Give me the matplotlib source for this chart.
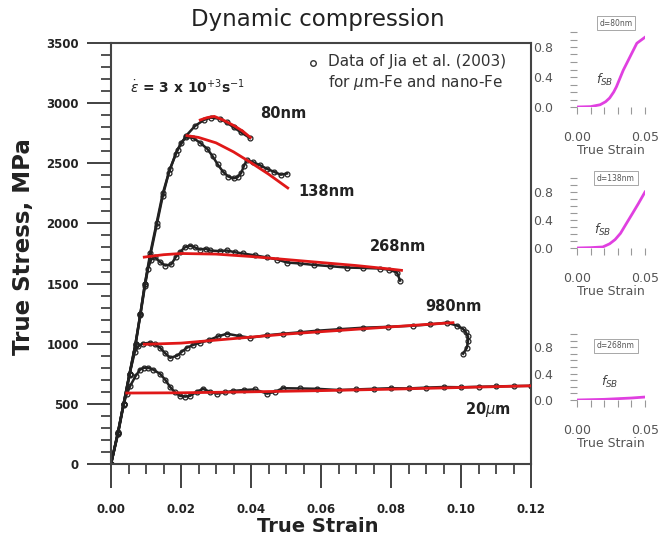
import numpy as np
import matplotlib.pyplot as plt
from matplotlib.ticker import MultipleLocator

# experimental data (Jia et al. 2003), strain / stress [MPa]
exp_80_x = [0.0, 0.002, 0.0036, 0.0053, 0.007, 0.0084, 0.0097, 0.0112, 0.013, 0.0148, 0.0168,
            0.019, 0.0215, 0.024, 0.0265, 0.0285, 0.031, 0.033, 0.035, 0.037, 0.0397]
exp_80_y = [0, 260, 500, 750, 1000, 1250, 1500, 1750, 2000, 2250, 2450,
            2610, 2730, 2810, 2860, 2880, 2870, 2840, 2800, 2760, 2710]

exp_138_x = [0.0, 0.002, 0.0036, 0.0053, 0.007, 0.0084, 0.0097, 0.0112, 0.013, 0.0148, 0.0165,
             0.0185, 0.02, 0.0215, 0.0235, 0.0255, 0.0275, 0.029, 0.0305, 0.032, 0.0335, 0.035,
             0.0362, 0.0372, 0.038, 0.0388, 0.0405, 0.0425, 0.0445, 0.0465, 0.0485, 0.0503]
exp_138_y = [0, 250, 490, 740, 990, 1240, 1480, 1730, 1980, 2230, 2420,
             2580, 2670, 2720, 2710, 2670, 2620, 2560, 2490, 2430, 2390, 2375,
             2385, 2420, 2480, 2525, 2510, 2485, 2455, 2430, 2405, 2415]

exp_268_x = [0.0, 0.002, 0.0036, 0.0053, 0.007, 0.0084, 0.0097, 0.0105, 0.0115, 0.0125, 0.014,
             0.0155, 0.0172, 0.0185, 0.0197, 0.021, 0.0226, 0.024, 0.0254, 0.027, 0.0283, 0.031,
             0.0331, 0.0355, 0.0377, 0.041, 0.0446, 0.0475, 0.0503, 0.054, 0.058, 0.0625, 0.0674,
             0.072, 0.0769, 0.0795, 0.0817, 0.0826]
exp_268_y = [0, 260, 500, 750, 1000, 1250, 1500, 1620, 1700, 1720, 1680,
             1650, 1660, 1720, 1760, 1800, 1815, 1800, 1783, 1790, 1775, 1770,
             1775, 1760, 1750, 1735, 1717, 1700, 1675, 1667, 1655, 1645, 1633,
             1630, 1625, 1615, 1592, 1525]

exp_980_x = [0.0, 0.002, 0.0036, 0.0053, 0.0068, 0.0078, 0.009, 0.0111, 0.0125, 0.014, 0.0155,
             0.0169, 0.0189, 0.0203, 0.0217, 0.0235, 0.0254, 0.028, 0.0305, 0.0331, 0.0365,
             0.0397, 0.0445, 0.0491, 0.054, 0.0589, 0.065, 0.072, 0.079, 0.0863, 0.091, 0.096,
             0.0989, 0.1005, 0.1013, 0.102, 0.102, 0.1017, 0.1006]
exp_980_y = [0, 260, 500, 750, 930, 980, 1000, 1008, 995, 967, 920,
             883, 900, 935, 967, 990, 1008, 1030, 1060, 1083, 1065,
             1050, 1070, 1083, 1095, 1108, 1120, 1133, 1140, 1150, 1160, 1175,
             1150, 1125, 1100, 1060, 1025, 967, 917]

exp_20_x = [0.0, 0.002, 0.0036, 0.0045, 0.0055, 0.007, 0.0083, 0.0095, 0.0106, 0.012, 0.014,
            0.0155, 0.0169, 0.0183, 0.0197, 0.0212, 0.0226, 0.0245, 0.0263, 0.0283, 0.0303,
            0.0325, 0.0349, 0.038, 0.0411, 0.0446, 0.0468, 0.0491, 0.054, 0.0589, 0.065, 0.07,
            0.075, 0.08, 0.085, 0.09, 0.095, 0.10, 0.105, 0.11, 0.115, 0.12]
exp_20_y = [0, 270, 500, 580, 650, 730, 785, 800, 800, 785, 750,
            700, 640, 595, 567, 560, 567, 600, 625, 600, 585,
            595, 608, 615, 620, 585, 600, 630, 628, 625, 615, 620,
            625, 630, 628, 635, 640, 638, 642, 645, 648, 650]

# model curves
mod_80_x = [0.0255, 0.0275, 0.0295, 0.032, 0.035, 0.0375, 0.0398]
mod_80_y = [2860, 2880, 2890, 2860, 2815, 2770, 2715]
mod_138_x = [0.0217, 0.025, 0.03, 0.035, 0.04, 0.045, 0.0505]
mod_138_y = [2730, 2715, 2670, 2595, 2505, 2410, 2295]
mod_268_x = [0.0095, 0.015, 0.02, 0.03, 0.04, 0.05, 0.06, 0.07, 0.08, 0.083]
mod_268_y = [1720, 1740, 1750, 1745, 1725, 1700, 1675, 1650, 1620, 1610]
mod_980_x = [0.0095, 0.02, 0.03, 0.04, 0.05, 0.06, 0.07, 0.08, 0.09, 0.0977]
mod_980_y = [995, 1005, 1030, 1055, 1080, 1100, 1120, 1140, 1160, 1175]
mod_20_x = [0.0045, 0.02, 0.04, 0.06, 0.08, 0.10, 0.12]
mod_20_y = [590, 592, 600, 610, 622, 636, 650]

# shear band fraction insets
fsb_80_x = [0.0, 0.01, 0.017, 0.021, 0.024, 0.027, 0.029, 0.034, 0.039, 0.044, 0.05]
fsb_80_y = [0.0, 0.005, 0.03, 0.07, 0.12, 0.2, 0.27, 0.49, 0.67, 0.85, 0.93]
fsb_138_x = [0.0, 0.01, 0.019, 0.024, 0.028, 0.032, 0.036, 0.041, 0.045, 0.05]
fsb_138_y = [0.0, 0.005, 0.015, 0.06, 0.12, 0.21, 0.34, 0.5, 0.63, 0.8]
fsb_268_x = [0.0, 0.01, 0.02, 0.03, 0.04, 0.05]
fsb_268_y = [0.0, 0.005, 0.01, 0.02, 0.03, 0.045]

labels = ['80nm', '138nm', '268nm', '980nm', '20$\\mu$m']
label_pos = [(0.0426, 2917), (0.0534, 2267), (0.074, 1808), (0.0897, 1308), (0.1011, 450)]

fig = plt.figure(figsize=(6.6, 5.44), dpi=100)
ax = fig.add_axes([111/660, 80/544, 420/660, 421/544])
ax.set_facecolor('none')

for x, y in [(exp_80_x, exp_80_y), (exp_138_x, exp_138_y), (exp_268_x, exp_268_y),
             (exp_980_x, exp_980_y), (exp_20_x, exp_20_y)]:
    ax.plot(x, y, color='#222222', lw=1.8, marker='o', ms=3.5, mfc='none', mew=0.9,
            mec='#222222', zorder=2)

for x, y in [(mod_80_x, mod_80_y), (mod_138_x, mod_138_y), (mod_268_x, mod_268_y),
             (mod_980_x, mod_980_y), (mod_20_x, mod_20_y)]:
    ax.plot(x, y, color='#e01818', lw=2.0, zorder=3)

for lab, (lx, ly) in zip(labels, label_pos):
    ax.text(lx, ly, lab, fontsize=10.5, fontweight='bold', color='#222222', ha='left', va='center')

ax.text(0.0054, 3133, r'$\dot{\varepsilon}$ = 3 x 10$^{+3}$s$^{-1}$', fontsize=10,
        fontweight='bold', color='#222222', ha='left', va='center')
ax.plot([0.0577], [3333], marker='o', ms=4, mfc='none', mec='#333333', mew=1)
ax.text(0.062, 3250, 'Data of Jia et al. (2003)\nfor $\\mu$m-Fe and nano-Fe', fontsize=11,
        color='#333333', ha='left', va='center', linespacing=1.3)

ax.set_xlim(0, 0.12)
ax.set_ylim(0, 3500)
ax.xaxis.set_major_locator(MultipleLocator(0.02))
ax.xaxis.set_minor_locator(MultipleLocator(0.005))
ax.yaxis.set_major_locator(MultipleLocator(500))
ax.yaxis.set_minor_locator(MultipleLocator(100))
ax.xaxis.set_major_formatter(plt.FuncFormatter(lambda v, p: '%.2f' % v))
ax.tick_params(which='major', direction='out', length=17, width=1.3, color='#333333',
               labelsize=8.5, labelcolor='#222222')
ax.tick_params(which='minor', direction='out', length=7, width=1.2, color='#333333')
ax.tick_params(axis='y', which='major', pad=6)
ax.tick_params(axis='x', which='major', pad=11)
for lbl in ax.get_xticklabels() + ax.get_yticklabels():
    lbl.set_fontweight('bold')
for s in ax.spines.values():
    s.set_linewidth(1.5)
    s.set_color('#444444')

fig.text(0.482, 0.965, 'Dynamic compression', fontsize=16.5, ha='center', va='center', color='#222222')
fig.text(0.482, 0.033, 'True Strain', fontsize=14, fontweight='bold', ha='center', va='center',
         color='#222222')
fig.text(0.036, 0.546, 'True Stress, MPa', fontsize=16.5, fontweight='bold', ha='center',
         va='center', rotation=90, color='#222222')

# insets: (bottom px, height px, data, box label, f label pos)
insets = [(107, 75, fsb_80_x, fsb_80_y, 'd=80nm', 1.12, (0.0206, 0.36)),
          (248, 70, fsb_138_x, fsb_138_y, 'd=138nm', 1.0, (0.019, 0.26)),
          (400, 66, fsb_268_x, fsb_268_y, 'd=268nm', 0.82, (0.024, 0.27))]
for bot, h, fx, fy, dlab, dy, fpos in insets:
    ia = fig.add_axes([577/660, (544 - bot)/544, 68/660, h/544])
    ia.set_facecolor('none')
    ia.plot(fx, fy, color='#e040e0', lw=2)
    ia.set_xlim(0, 0.05)
    ia.set_ylim(0, 1.0)
    for s in ia.spines.values():
        s.set_visible(False)
    ia.set_xticks([0.0, 0.05])
    ia.set_xticklabels(['0.00', '0.05'])
    ia.set_yticks([0.0, 0.4, 0.8])
    ia.set_yticklabels(['0.0', '0.4', '0.8'])
    ia.xaxis.set_minor_locator(MultipleLocator(0.01))
    ia.yaxis.set_minor_locator(MultipleLocator(0.1))
    ia.tick_params(which='both', direction='out', length=5, width=0.8, color='#999999',
                   labelsize=9, labelcolor='#555555')
    ia.tick_params(axis='y', which='major', pad=12)
    ia.tick_params(axis='x', which='major', pad=12)
    ia.set_xlabel('True Strain', fontsize=9, color='#555555', labelpad=0)
    ia.text(0.0287, dy, dlab, fontsize=5.5, color='#555555', ha='center', va='center',
            bbox=dict(boxstyle='square,pad=0.35', fc='white', ec='#999999', lw=0.6),
            clip_on=False)
    ia.text(fpos[0], fpos[1], r'$f_{SB}$', fontsize=9, color='#444444', ha='center', va='center')

plt.savefig('out.png', dpi=100)
